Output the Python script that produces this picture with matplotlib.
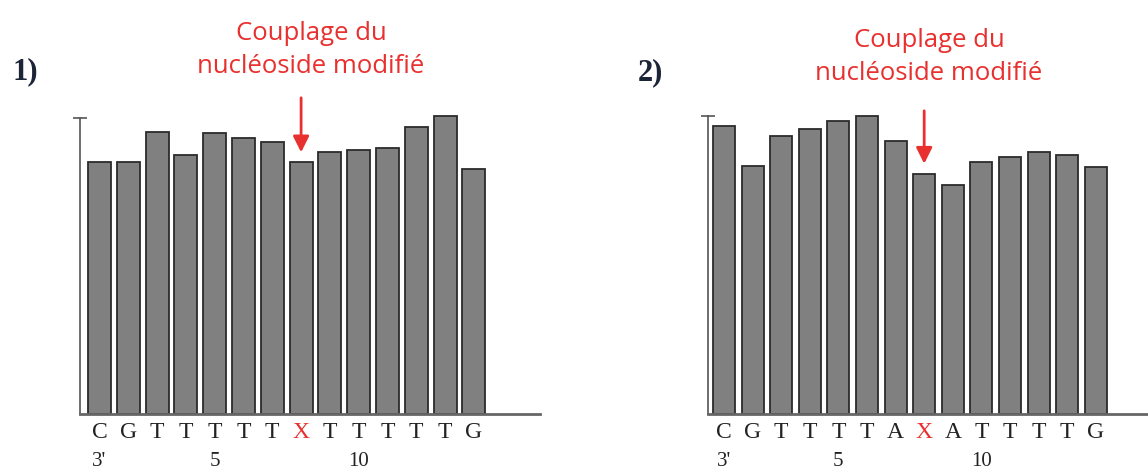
import matplotlib.pyplot as plt
from matplotlib.transforms import blended_transform_factory

# sequences, 3' -> 5'
seq1 = ["C", "G", "T", "T", "T", "T", "T", "X", "T", "T", "T", "T", "T", "G"]
seq2 = ["C", "G", "T", "T", "T", "T", "A", "X", "A", "T", "T", "T", "T", "G"]

# relative signal per position (top tick = 100)
signal1 = [85.1, 85.1, 95.4, 87.5, 94.9, 93.2, 91.9, 85.1, 88.6, 89.2, 90.0, 97.0, 100.8, 82.8]
signal2 = [96.7, 83.1, 93.3, 95.8, 98.2, 99.9, 91.6, 80.7, 77.0, 84.4, 86.2, 87.9, 87.0, 82.8]

pos_labels = {1: "3'", 5: "5", 10: "10"}
modified = 8

RED = "#e8302f"
BAR = "#808080"
W, H = 1148, 472

fig = plt.figure(figsize=(W / 100, H / 100), dpi=100)


def panel(axis_px, end_px, first_px, pitch_px, base_px, top_px, seq, vals, width,
          tag, tag_px, note_px):
    px_per_unit = (base_px - top_px) / 100.0
    x0 = 1 + (axis_px - first_px) / pitch_px
    x1 = 1 + (end_px - first_px) / pitch_px
    ytop = (base_px - 100) / px_per_unit
    ax = fig.add_axes([axis_px / W, 1 - base_px / H, (end_px - axis_px) / W,
                       (base_px - 100) / H])
    xs = list(range(1, len(vals) + 1))
    ax.bar(xs, vals, width=width, color=BAR, edgecolor="#2b2b2b", linewidth=1.3, zorder=2)
    ax.set_xlim(x0, x1)
    ax.set_ylim(0, ytop)

    for s in ("top", "right"):
        ax.spines[s].set_visible(False)
    ax.spines["left"].set_bounds(0, 100)
    ax.spines["left"].set_color("#555555")
    ax.spines["left"].set_linewidth(1.2)
    ax.spines["bottom"].set_color("#666666")
    ax.spines["bottom"].set_linewidth(2)
    ax.spines["bottom"].set_zorder(3)
    ax.set_yticks([100])
    ax.set_yticklabels([])
    ax.tick_params(axis="y", direction="inout", length=10, width=1.2, color="#555555")

    ax.set_xticks(xs)
    ax.set_xticklabels(seq, family="Liberation Serif", fontsize=17, color="#222222")
    ax.tick_params(axis="x", length=0, pad=6)
    ax.get_xticklabels()[modified - 1].set_color(RED)

    # position numbers under the sequence
    tr = blended_transform_factory(ax.transData, ax.transAxes)
    for k, s in pos_labels.items():
        ax.text(k, -47 / (base_px - 100), s, transform=tr, ha="center", va="center",
                family="Liberation Serif", fontsize=15, color="#222222")

    # arrow down onto the modified position
    tip = vals[modified - 1] + 7 / px_per_unit
    tail = (base_px - note_px[2]) / px_per_unit
    ax.annotate("", xy=(modified, tip), xytext=(modified, tail),
                arrowprops=dict(arrowstyle="-|>", color=RED, lw=2, mutation_scale=24),
                annotation_clip=False)

    fig.text(note_px[0] / W, 1 - note_px[1] / H, "Couplage du\nnucléoside modifié",
             ha="center", va="center", color=RED, family="Open Sans", fontsize=18.5,
             linespacing=1.38)
    fig.text(tag_px[0] / W, 1 - tag_px[1] / H, tag, ha="left", va="center",
             family="Liberation Serif", fontweight="bold", fontsize=22, color="#1c2438")
    return ax


panel(80, 540, 99.5, 28.8, 414, 118, seq1, signal1, 0.8, "1)", (12, 72), (311, 50, 95))
panel(708, 1148, 724, 28.6, 414, 116, seq2, signal2, 0.77, "2)", (638, 73), (929, 57, 108))

fig.savefig("out.png", dpi=100)
